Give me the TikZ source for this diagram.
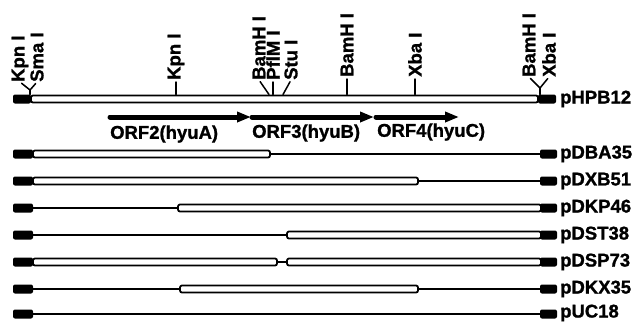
\documentclass[tikz,border=0pt]{standalone}
\usepackage{fontspec}
\setmainfont[BoldFeatures={FakeBold=1.2}]{Liberation Sans}
\usetikzlibrary{arrows.meta}
\tikzset{
  txt/.style={inner sep=0pt,font=\bfseries\fontsize{18.5}{18.5}\selectfont},
  site/.style={txt,rotate=90,anchor=west},
  clone/.style={txt,anchor=west},
  tick/.style={line width=1.5pt,shorten >=2pt},
  vector/.style={line width=1.5pt},
  insert/.style={draw,line width=1.8pt,fill=white,rounded corners=2pt},
  endblock/.style={fill,rounded corners=2pt},
  orf/.style={line width=5pt,-{Triangle[length=14pt,width=10pt]}},
}
\begin{document}
\begin{tikzpicture}[x=1pt,y=-1pt,line join=round,line cap=round]
		\useasboundingbox (0,0) rectangle (637,322);
		% pHPB12 with restriction sites
		\draw[insert] (31,95.5) rectangle (538,102.5);
		\fill[endblock] (13,94.5) rectangle (31,103.5);
		\fill[endblock] (538,94.5) rectangle (556,103.5);
		\node[clone] (hpb) at (560,99) {pHPB12};
		\node[site] (kpnA) at (20,82) {Kpn I};
		\node[site] (smaA) at (37,82) {Sma I};
		\node[site] (kpnB) at (176,80) {Kpn I};
		\node[site] (bamA) at (259,80) {BamH I};
		\node[site] (pfl) at (273,80) {PflM I};
		\node[site] (stu) at (291,80) {Stu I};
		\node[site] (bamB) at (347,77) {BamH I};
		\node[site] (xbaA) at (415,77) {Xba I};
		\node[site] (bamC) at (529,77) {BamH I};
		\node[site] (xbaB) at (549,77) {Xba I};
		\coordinate (forkA) at (30,90);
		\coordinate (forkB) at (540,88);
		\draw[line width=1.5pt] (30,94.5)--(forkA);
		\draw[line width=1.5pt] (540,94.5)--(forkB);
		\draw[tick] (forkA)--(kpnA.west);
		\draw[tick] (forkA)--(smaA.west);
		\draw[tick] (forkB)--(bamC.west);
		\draw[tick] (forkB)--(xbaB.west);
		\draw[tick] (176,94.5)--(kpnB.west);
		\draw[tick] (269,94.5)--(bamA.west);
		\draw[tick] (273,94.5)--(pfl.west);
		\draw[tick] (283,94.5)--(stu.west);
		\draw[tick] (347,94.5)--(bamB.west);
		\draw[tick] (415,94.5)--(xbaA.west);
		% open reading frames
		\draw[orf] (110,117)--(251,117);
		\draw[orf] (252,117)--(374,117);
		\draw[orf] (376,117)--(459,117);
		\node[clone] (orf2) at (110,134) {ORF2(hyuA)};
		\node[clone] (orf3) at (252,133) {ORF3(hyuB)};
		\node[clone] (orf4) at (377,132) {ORF4(hyuC)};
		% deletion clones
		\draw[vector] (33,154)--(541,154);
		\draw[insert] (33,150.5) rectangle (270,157.5);
		\draw[vector] (33,181)--(541,181);
		\draw[insert] (33,177.5) rectangle (418,184.5);
		\draw[vector] (33,208)--(541,208);
		\draw[insert] (178,204.5) rectangle (541,211.5);
		\draw[vector] (33,235)--(541,235);
		\draw[insert] (287,231.5) rectangle (541,238.5);
		\draw[vector] (33,262)--(541,262);
		\draw[insert] (33,258.5) rectangle (277,265.5);
		\draw[insert] (287,258.5) rectangle (541,265.5);
		\draw[vector] (33,289)--(541,289);
		\draw[insert] (180,285.5) rectangle (418,292.5);
		\draw[vector] (33,314)--(541,314);
		\foreach \y in {154,181,208,235,262,289,314} {
			\fill[endblock] (13,\y-4.5) rectangle (33,\y+4.5);
			\fill[endblock] (540,\y-4.5) rectangle (557,\y+4.5);
		}
		\node[clone] (dba) at (560,154) {pDBA35};
		\node[clone] (dxb) at (560,181) {pDXB51};
		\node[clone] (dkp) at (560,208) {pDKP46};
		\node[clone] (dst) at (560,235) {pDST38};
		\node[clone] (dsp) at (560,262) {pDSP73};
		\node[clone] (dkx) at (560,289) {pDKX35};
		\node[clone] (puc) at (560,313) {pUC18};
	\end{tikzpicture}
\end{document}
